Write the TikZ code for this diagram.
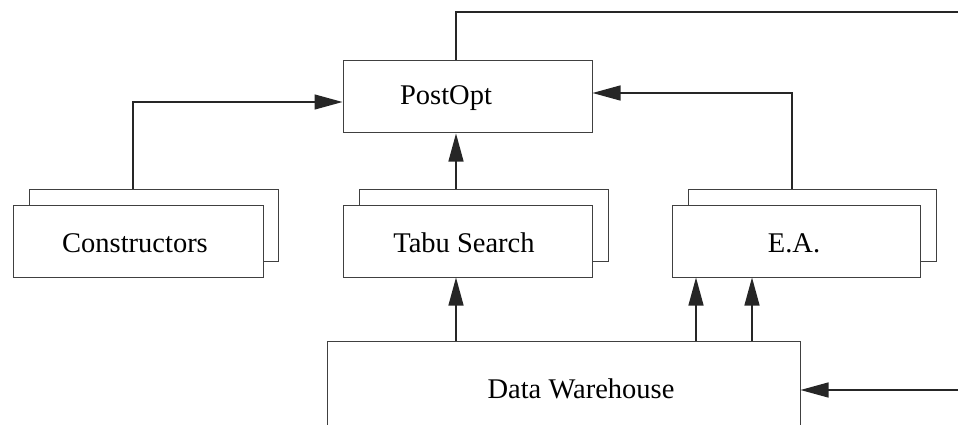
\documentclass[tikz,border=0pt]{standalone}
\usepackage{fontspec}
\setmainfont{Liberation Serif}
\usetikzlibrary{arrows.meta,calc}

\tikzset{
  box/.style={draw=black!75, line width=1pt, fill=white, inner sep=0pt,
              minimum width=#1, minimum height=72pt},
  box/.default=249pt,
  label/.style={font=\fontsize{28.5}{34}\selectfont, inner sep=0pt, text=black},
  conn/.style={draw=black!85, line width=1.3pt},
  arr/.style={conn, -{Triangle[length=28pt,width=15pt]}},
}

\begin{document}
\begin{tikzpicture}[x=1pt, y=-1pt]
  \useasboundingbox (0,0) rectangle (958,425);
  \clip (0,0) rectangle (958,425);

  % central post-optimisation stage
  \node[box] (postopt) at (467.5,97) {};
  \node[label] (postopt-t) at (446,98) {PostOpt};

  % stacked solver boxes: back copy first, front copy over it
  \node[box] (cons-b) at (153.5,225) {};
  \node[box=250pt] (cons) at (138,241) {};
  \node[label] (cons-t) at (135,243) {Constructors};

  \node[box] (tabu-b) at (483.5,225) {};
  \node[box] (tabu) at (467.5,241) {};
  \node[label] (tabu-t) at (464,243) {Tabu Search};

  \node[box=248pt] (ea-b) at (812.5,225) {};
  \node[box=248pt] (ea) at (796,241) {};
  \node[label] (ea-t) at (794,243) {E.A.};

  % shared data store
  \node[box=473pt, minimum height=100pt] (dw) at (563.5,391) {};
  \node[label] (dw-t) at (581,389) {Data Warehouse};

  % column positions of the connectors
  \coordinate (x-cons) at (133,0);
  \coordinate (x-mid) at (456,0);
  \coordinate (x-ea) at (792,0);
  \coordinate (dw-a) at (696,0);
  \coordinate (dw-b) at (752,0);

  % solvers feeding the post-optimiser
  \draw[arr] (cons-b.north -| x-cons) |- ($(postopt.west)+(0,5)$);
  \draw[arr] (tabu-b.north -| x-mid) -- (postopt.south -| x-mid);
  \draw[arr] (ea-b.north -| x-ea) |- ($(postopt.east)+(0,-4)$);

  % data warehouse feeding the solvers
  \draw[arr] (dw.north -| x-mid) -- (tabu.south -| x-mid);
  \draw[arr] (dw.north -| dw-a) -- (ea.south -| dw-a);
  \draw[arr] (dw.north -| dw-b) -- (ea.south -| dw-b);

  % feedback loop from the post-optimiser back to the warehouse
  \coordinate (loop-top) at (975,12);
  \coordinate (loop-in) at (975,390);
  \draw[arr] (postopt.north -| x-mid) |- (loop-top) -- (loop-in) -- (dw.east |- loop-in);
\end{tikzpicture}
\end{document}
